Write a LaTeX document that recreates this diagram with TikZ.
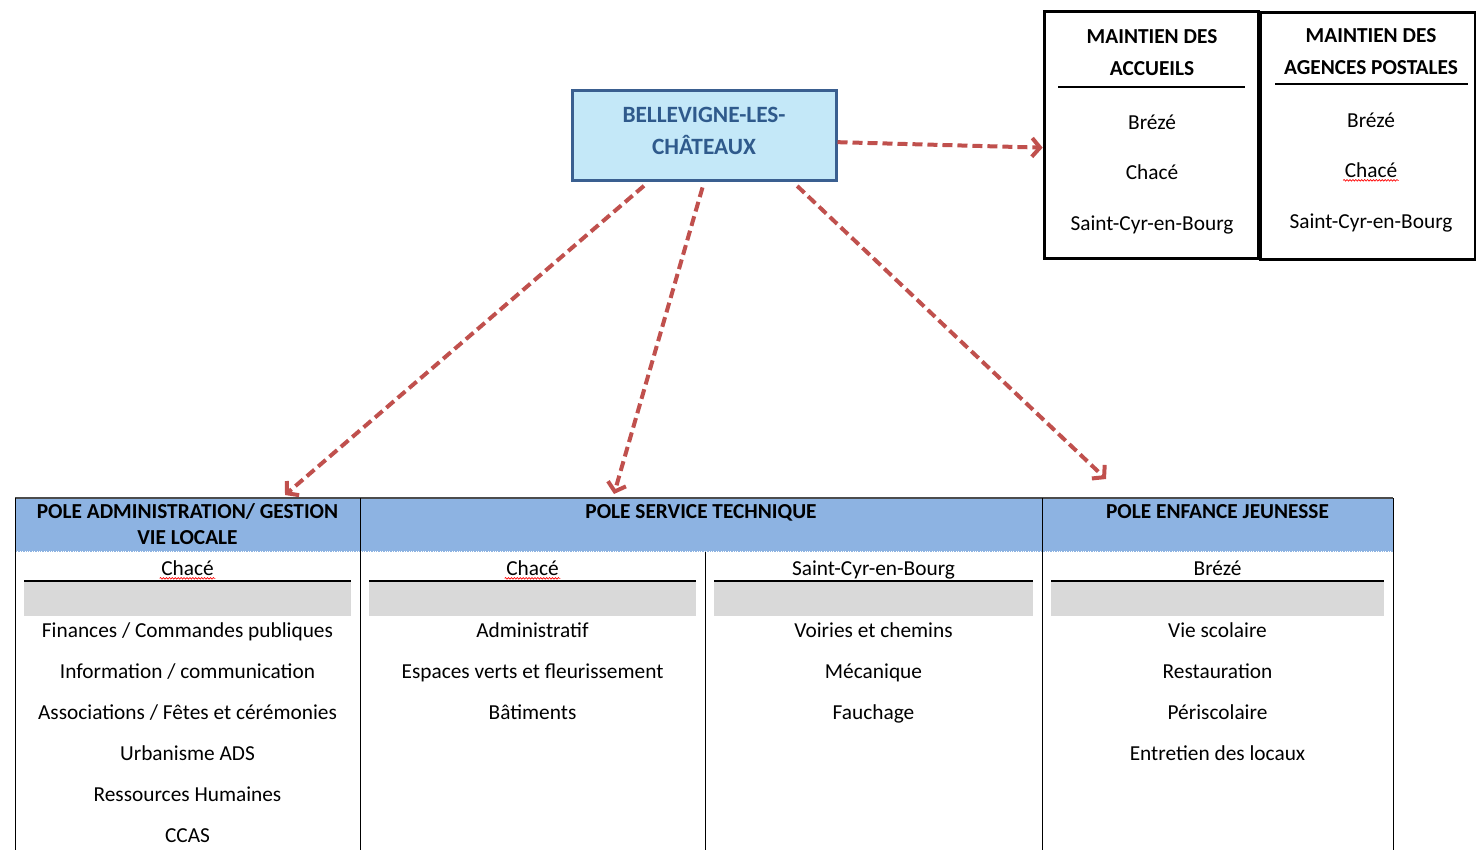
\documentclass[tikz,border=0pt]{standalone}
\usepackage{fontspec}
\setmainfont{Carlito}
\usetikzlibrary{arrows.meta,decorations.pathmorphing}
\definecolor{cityfill}{HTML}{C4E8F8}
\definecolor{cityline}{HTML}{3A5F90}
\definecolor{citytext}{HTML}{2F5A8C}
\definecolor{linkred}{HTML}{C0504D}
\definecolor{polefill}{HTML}{8DB3E2}
\definecolor{bargray}{HTML}{D9D9D9}
\tikzset{
  citybox/.style={draw=cityline, fill=cityfill, line width=2.25pt, minimum width=198pt, minimum height=68pt},
  citytitle/.style={align=center, text=citytext, font=\fontsize{17.5}{24}\selectfont\bfseries},
  keepbox/.style={draw, line width=2.25pt, minimum width=161pt, minimum height=185pt},
  boxhead/.style={align=center, font=\fontsize{16}{24}\selectfont\bfseries},
  polehead/.style={align=center, font=\fontsize{16}{19.5}\selectfont\bfseries},
  oneline/.style={text height=13pt, text depth=2pt},
  item/.style={inner sep=1pt, text height=12.5pt, text depth=2pt},
  link/.style={draw=linkred, line width=3pt, dash pattern=on 7.5pt off 3.75pt, -{Straight Barb[length=6pt,width=14pt]}},
  spell/.style={draw=red, line width=0.5pt, decorate, decoration={snake, amplitude=0.6pt, segment length=2.2pt}}
}
\begin{document}
\begin{tikzpicture}[x=0.75pt,y=-0.75pt, font=\fontsize{16}{19}\selectfont]
\useasboundingbox (0,0) rectangle (1476,850);
\node[citybox] (city) at (704,135.5) {};
\node[citytitle] (cityname) at (704,131) {BELLEVIGNE-LES-\\CHÂTEAUX};
\node[keepbox] (acc) at (1151.5,135) {};
\node[keepbox] (post) at (1368,136) {};
\node[boxhead] (acchead) at (1152,53) {MAINTIEN DES\\ACCUEILS};
\node[boxhead] (posthead) at (1371,52) {MAINTIEN DES\\AGENCES POSTALES};
\draw[line width=1.5pt] (1058,87) -- (1245,87);
\draw[line width=1.5pt] (1275,84) -- (1468,84);
\node[item] (acc1) at (1152,122) {Brézé};
\node[item] (acc2) at (1152,172) {Chacé};
\node[item] (acc3) at (1152,223) {Saint-Cyr-en-Bourg};
\node[item] (post1) at (1371,120) {Brézé};
\node[item] (post2) at (1371,170) {Chacé};
\node[item] (post3) at (1371,221) {Saint-Cyr-en-Bourg};
\draw[spell] ([yshift=-2.5pt]post2.base west) -- ([yshift=-2.5pt]post2.base east);
\fill[polefill] (15,498) rectangle (1393,552);
\draw[line width=1pt, black!70] (15,498) -- (1393,498);
\draw[white, densely dotted, line width=0.8pt] (15,552) -- (1393,552);
\draw[line width=0.75pt] (15,498) -- (15,850);
\draw[line width=0.75pt] (360,498) -- (360,850);
\draw[line width=0.75pt] (1042,498) -- (1042,850);
\draw[line width=0.75pt] (1393,498) -- (1393,850);
\draw[line width=0.75pt] (705,552) -- (705,850);
\node[polehead] (admin) at (187.5,524) {POLE ADMINISTRATION/ GESTION\\VIE LOCALE};
\node[polehead, oneline] (tech) at (701,511) {POLE SERVICE TECHNIQUE};
\node[polehead, oneline] (youth) at (1217.5,511) {POLE ENFANCE JEUNESSE};
\fill[bargray] (24,582) rectangle (351,616);
\fill[bargray] (369,582) rectangle (696,616);
\fill[bargray] (714,582) rectangle (1033,616);
\fill[bargray] (1051,582) rectangle (1384,616);
\draw[line width=1.5pt] (24,581) -- (351,581);
\draw[line width=1.5pt] (369,581) -- (696,581);
\draw[line width=1.5pt] (714,581) -- (1033,581);
\draw[line width=1.5pt] (1051,581) -- (1384,581);
\node[item] (site1) at (187.5,568) {Chacé};
\node[item] (site2) at (532.5,568) {Chacé};
\node[item] (site3) at (873.5,568) {Saint-Cyr-en-Bourg};
\node[item] (site4) at (1217.5,568) {Brézé};
\draw[spell] ([yshift=-2.5pt]site1.base west) -- ([yshift=-2.5pt]site1.base east);
\draw[spell] ([yshift=-2.5pt]site2.base west) -- ([yshift=-2.5pt]site2.base east);
\node[item] (adm1) at (187.5,630) {Finances / Commandes publiques};
\node[item] (adm2) at (187.5,671) {Information / communication};
\node[item] (adm3) at (187.5,712) {Associations / Fêtes et cérémonies};
\node[item] (adm4) at (187.5,753) {Urbanisme ADS};
\node[item] (adm5) at (187.5,794) {Ressources Humaines};
\node[item] (adm6) at (187.5,835) {CCAS};
\node[item] (tch1) at (532.5,630) {Administratif};
\node[item] (tch2) at (532.5,671) {Espaces verts et fleurissement};
\node[item] (tch3) at (532.5,712) {Bâtiments};
\node[item] (road1) at (873.5,630) {Voiries et chemins};
\node[item] (road2) at (873.5,671) {Mécanique};
\node[item] (road3) at (873.5,712) {Fauchage};
\node[item] (yth1) at (1217.5,630) {Vie scolaire};
\node[item] (yth2) at (1217.5,671) {Restauration};
\node[item] (yth3) at (1217.5,712) {Périscolaire};
\node[item] (yth4) at (1217.5,753) {Entretien des locaux};
\coordinate (tipadmin) at (285,495);
\coordinate (tiptech) at (614,494);
\coordinate (tipyouth) at (1106,479);
\draw[link] ([yshift=-5pt]city.east) -- ([yshift=-9.5pt]acc.west);
\draw[link, shorten <=4pt] ([xshift=-42pt]city.south) -- (tipadmin);
\draw[link, shorten <=4pt] (city.south) -- (tiptech);
\draw[link, shorten <=4pt] ([xshift=67pt]city.south) -- (tipyouth);
\end{tikzpicture}
\end{document}
